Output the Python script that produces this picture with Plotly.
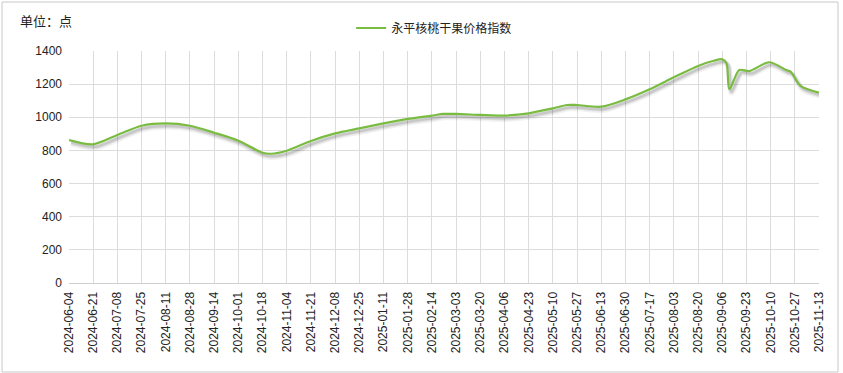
import pandas as pd
import plotly.graph_objects as go

# ---- data ----
dates = [
    "2024-06-04", "2024-06-21", "2024-07-08", "2024-07-25", "2024-08-11",
    "2024-08-28", "2024-09-14", "2024-10-01", "2024-10-18", "2024-10-24",
    "2024-11-04", "2024-11-21", "2024-12-08", "2024-12-25", "2025-01-11",
    "2025-01-28", "2025-02-14", "2025-02-22", "2025-03-03", "2025-03-20",
    "2025-04-06", "2025-04-23", "2025-05-10", "2025-05-20", "2025-05-27",
    "2025-06-13", "2025-06-30", "2025-07-17", "2025-08-03", "2025-08-20",
    "2025-08-31", "2025-09-06", "2025-09-09", "2025-09-11", "2025-09-18",
    "2025-09-25", "2025-10-09", "2025-10-21", "2025-10-24", "2025-10-31",
    "2025-11-13",
]
values = [
    862, 837, 893, 949, 963,
    949, 907, 859, 786, 780,
    798, 857, 903, 933, 963,
    990, 1010, 1020, 1020, 1014,
    1010, 1024, 1054, 1074, 1074,
    1064, 1108, 1169, 1241, 1310,
    1341, 1350, 1326, 1169, 1285,
    1279, 1332, 1285, 1275, 1189,
    1148,
]
series_name = "永平核桃干果价格指数"
unit_label = "单位：点"
tick_dates = pd.date_range("2024-06-04", "2025-11-13", freq="17D")
y_ticks = [0, 200, 400, 600, 800, 1000, 1200, 1400]

x = pd.to_datetime(dates)
green = "rgb(122,188,66)"
font_cjk = "Noto Sans CJK SC, Microsoft YaHei, sans-serif"
font_num = "Arial, Liberation Sans, sans-serif"

fig = go.Figure()
# soft shadow (derived from the same series, offset down-right)
for off, alpha, w in [(20, 0.05, 6), (17, 0.08, 4), (15, 0.10, 2.5)]:
    fig.add_trace(go.Scatter(
        x=x + pd.Timedelta(days=1.5), y=[v - off for v in values],
        mode="lines", line=dict(color=f"rgba(0,0,0,{alpha})", width=w,
                                shape="spline", smoothing=0.8),
        hoverinfo="skip", showlegend=False))
fig.add_trace(go.Scatter(
    x=x, y=values, mode="lines", name=series_name,
    line=dict(color=green, width=2.2, shape="spline", smoothing=0.8)))

fig.update_layout(
    width=843, height=373,
    margin=dict(l=69, r=24, t=51, b=90),
    paper_bgcolor="white", plot_bgcolor="white",
    font=dict(family=font_num, size=12, color="#222"),
    legend=dict(orientation="h", xref="container", yref="container",
                x=0.515, xanchor="center", y=1 - 28 / 373, yanchor="middle",
                font=dict(family=font_cjk, size=12, color="#222"),
                bgcolor="rgba(0,0,0,0)", itemwidth=30),
    showlegend=True,
)
fig.update_xaxes(
    type="date", range=[tick_dates[0], tick_dates[-1]],
    tickvals=list(tick_dates), tickformat="%Y-%m-%d", tickangle=-90,
    showgrid=True, gridcolor="#dcdcdc", gridwidth=1,
    showline=True, linecolor="#cfcfcf", zeroline=False,
    ticks="", tickfont=dict(family=font_num, size=12, color="#222"),
    ticklabelstandoff=3, automargin=False,
)
fig.update_yaxes(
    range=[0, 1400], tickvals=y_ticks,
    showgrid=True, gridcolor="#dcdcdc", gridwidth=1,
    zeroline=False, showline=False, ticks="", ticklen=0,
    tickfont=dict(family=font_num, size=12, color="#222"),
    ticklabelstandoff=6, automargin=False,
)
fig.add_annotation(text=unit_label, xref="paper", yref="paper",
                   x=(18 - 69) / 750, y=(283 - 20) / 232, xanchor="left", yanchor="middle",
                   showarrow=False, font=dict(family=font_cjk, size=13, color="#222"))
fig.add_shape(type="rect", xref="paper", yref="paper",
              x0=(2 - 69) / 750, x1=(838 - 69) / 750,
              y0=(283 - 372) / 232, y1=(283 - 2) / 232,
              line=dict(color="#c8c8c8", width=1), fillcolor="rgba(0,0,0,0)", layer="below")

fig.write_html("out.html", config={"displayModeBar": False},
               post_script="document.body.style.margin='0';")
